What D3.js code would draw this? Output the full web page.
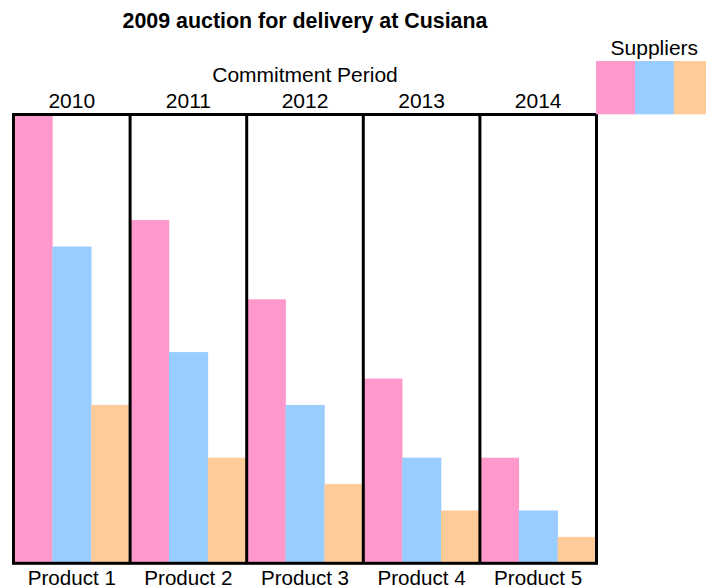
<!DOCTYPE html>
<html>
<head>
<meta charset="utf-8">
<script src="https://cdn.jsdelivr.net/npm/d3@7"></script>
<style>
  html, body { margin: 0; padding: 0; background: #fff; }
  svg { display: block; }
  text { font-family: "Liberation Sans", Arial, sans-serif; fill: #000; }
</style>
</head>
<body>
<script>
// Auction results: one panel per product / commitment year, one bar per supplier.
const products = ["Product 1", "Product 2", "Product 3", "Product 4", "Product 5"];
const years = ["2010", "2011", "2012", "2013", "2014"];
const suppliers = ["Supplier A", "Supplier B", "Supplier C"];
const supplierA = [17, 13, 10, 7, 4];
const supplierB = [12, 8, 6, 4, 2];
const supplierC = [6, 4, 3, 2, 1];
const supplierColors = ["#FF99CC", "#99CCFF", "#FFCC99"];

const title = "2009 auction for delivery at Cusiana";
const topLabel = "Commitment Period";
const legendTitle = "Suppliers";

const W = 706, H = 588;
const frame = { left: 13.5, right: 596.5, top: 114.5, bottom: 563.3 };
const legendBox = { top: 61, height: 53.3 };

const series = [supplierA, supplierB, supplierC];
const rows = products.map((p, i) => ({
  product: p,
  year: years[i],
  values: suppliers.map((s, j) => ({ supplier: s, value: series[j][i] }))
}));

const svg = d3.select("body").append("svg")
  .attr("width", W).attr("height", H);

const x = d3.scaleBand().domain(products).range([frame.left, frame.right]).padding(0);
const xInner = d3.scaleBand().domain(suppliers).range([0, x.bandwidth()]).padding(0);
const y = d3.scaleLinear().domain([0, 17]).range([frame.bottom, frame.top]);
const color = d3.scaleOrdinal().domain(suppliers).range(supplierColors);

// bars
const panels = svg.append("g").selectAll("g.panel")
  .data(rows).join("g")
  .attr("class", "panel")
  .attr("transform", d => `translate(${x(d.product)},0)`);

panels.selectAll("rect")
  .data(d => d.values).join("rect")
  .attr("x", d => xInner(d.supplier))
  .attr("width", xInner.bandwidth() + 0.3)
  .attr("y", d => y(d.value))
  .attr("height", d => y(0) - y(d.value))
  .attr("fill", d => color(d.supplier));

// frame and panel dividers
const lines = svg.append("g").attr("stroke", "#000").attr("stroke-width", 3).attr("fill", "none");
lines.append("rect")
  .attr("x", frame.left).attr("y", frame.top)
  .attr("width", frame.right - frame.left)
  .attr("height", frame.bottom - frame.top);
lines.selectAll("line")
  .data(products.slice(1)).join("line")
  .attr("x1", d => x(d)).attr("x2", d => x(d))
  .attr("y1", frame.top).attr("y2", frame.bottom);

// product labels under panels
svg.append("g").selectAll("text")
  .data(rows).join("text")
  .attr("x", d => x(d.product) + x.bandwidth() / 2)
  .attr("y", 585)
  .attr("text-anchor", "middle")
  .attr("font-size", 20.6)
  .text(d => d.product);

// year labels above panels
svg.append("g").selectAll("text")
  .data(rows).join("text")
  .attr("x", d => x(d.product) + x.bandwidth() / 2)
  .attr("y", 108.3)
  .attr("text-anchor", "middle")
  .attr("font-size", 21)
  .text(d => d.year);

const frameMid = (frame.left + frame.right) / 2;

svg.append("text")
  .attr("x", frameMid).attr("y", 81.7)
  .attr("text-anchor", "middle")
  .attr("font-size", 21)
  .text(topLabel);

svg.append("text")
  .attr("x", frameMid).attr("y", 28.3)
  .attr("text-anchor", "middle")
  .attr("font-size", 21.4)
  .attr("font-weight", "bold")
  .text(title);

// legend: swatches to the right of the frame
const legend = svg.append("g").attr("transform", `translate(${frame.right - 0.5},0)`);
legend.selectAll("rect")
  .data(suppliers).join("rect")
  .attr("x", d => xInner(d))
  .attr("width", xInner.bandwidth() + 0.3)
  .attr("y", legendBox.top)
  .attr("height", legendBox.height)
  .attr("fill", d => color(d));
legend.append("text")
  .attr("x", x.bandwidth() / 2)
  .attr("y", 55)
  .attr("text-anchor", "middle")
  .attr("font-size", 21)
  .text(legendTitle);
</script>
</body>
</html>
